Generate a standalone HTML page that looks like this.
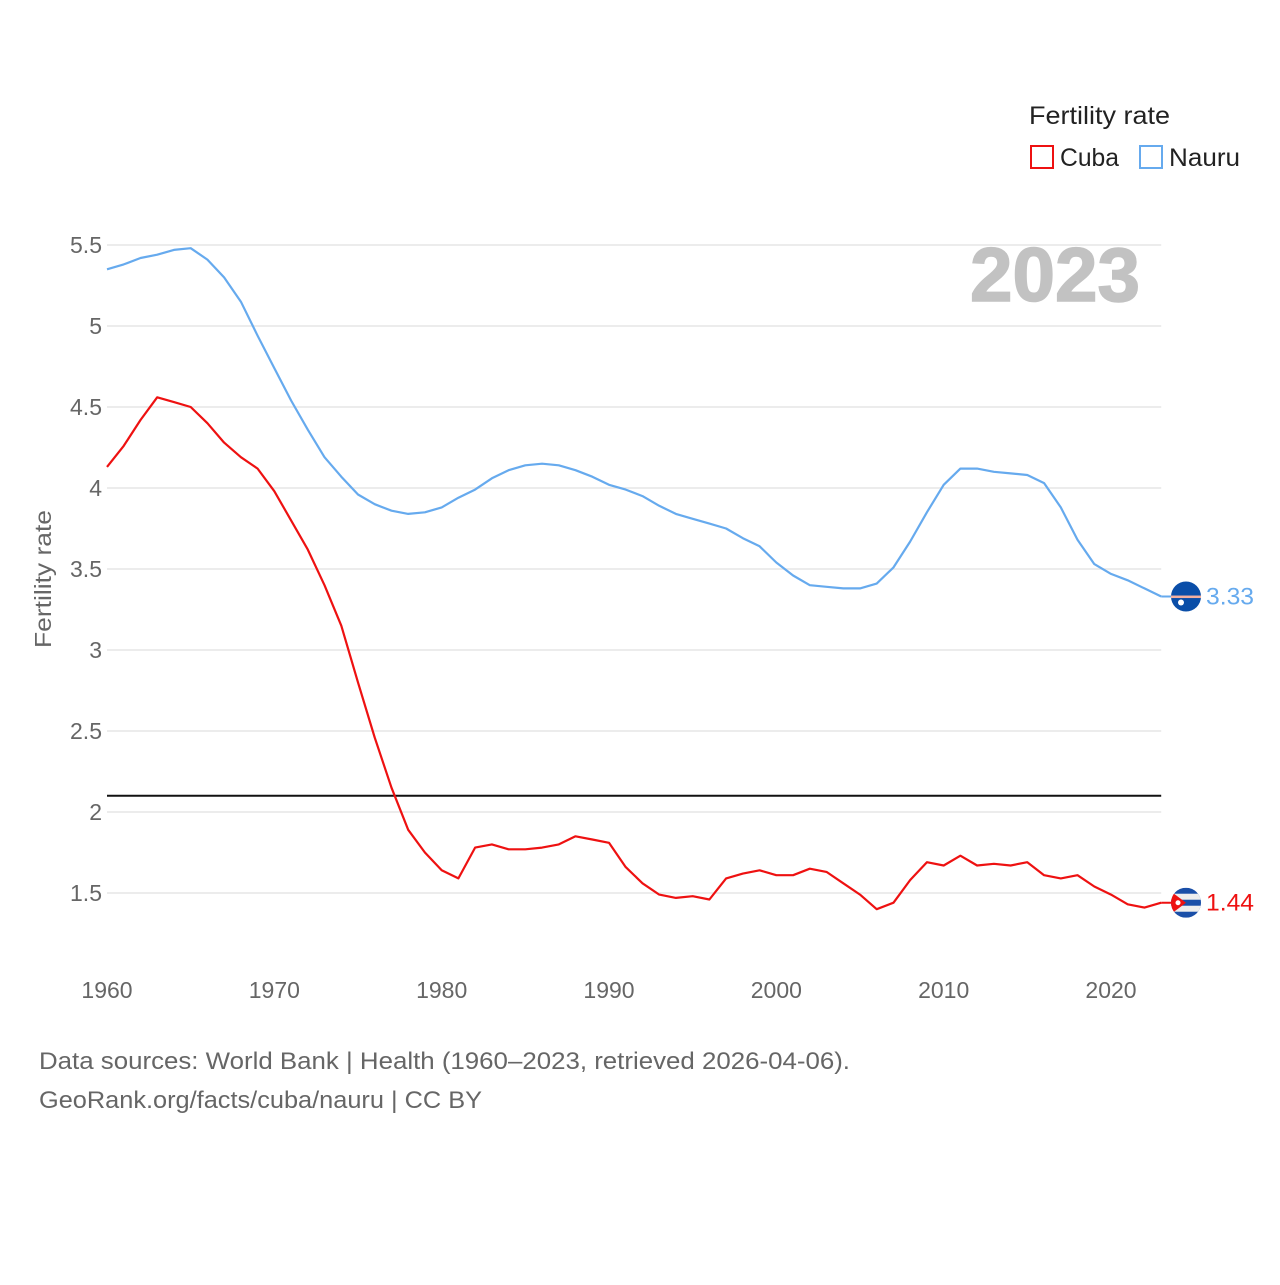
<!DOCTYPE html>
<html><head><meta charset="utf-8">
<style>
body{margin:0;background:#fff;width:1280px;height:1280px;overflow:hidden;font-family:"Liberation Sans",sans-serif;}
svg text{font-family:"Liberation Sans",sans-serif;}
</style></head>
<body>
<svg id="chart" width="1280" height="1280" xmlns="http://www.w3.org/2000/svg"></svg>
<script>
const years = [];
for (let y = 1960; y <= 2023; y++) years.push(y);
const cuba = [4.13,4.26,4.42,4.56,4.53,4.50,4.40,4.28,4.19,4.12,3.98,3.80,3.62,3.40,3.15,2.80,2.46,2.15,1.89,1.75,1.64,1.59,1.78,1.80,1.77,1.77,1.78,1.80,1.85,1.83,1.81,1.66,1.56,1.49,1.47,1.48,1.46,1.59,1.62,1.64,1.61,1.61,1.65,1.63,1.56,1.49,1.40,1.44,1.58,1.69,1.67,1.73,1.67,1.68,1.67,1.69,1.61,1.59,1.61,1.54,1.49,1.43,1.41,1.44];
const nauru = [5.35,5.38,5.42,5.44,5.47,5.48,5.41,5.30,5.15,4.94,4.74,4.54,4.36,4.19,4.07,3.96,3.90,3.86,3.84,3.85,3.88,3.94,3.99,4.06,4.11,4.14,4.15,4.14,4.11,4.07,4.02,3.99,3.95,3.89,3.84,3.81,3.78,3.75,3.69,3.64,3.54,3.46,3.40,3.39,3.38,3.38,3.41,3.51,3.67,3.85,4.02,4.12,4.12,4.10,4.09,4.08,4.03,3.88,3.68,3.53,3.47,3.43,3.38,3.33];
const yTicks = [1.5,2,2.5,3,3.5,4,4.5,5,5.5];
const yTickLabels = ["1.5","2","2.5","3","3.5","4","4.5","5","5.5"];
const xTicks = [1960,1970,1980,1990,2000,2010,2020];
const replacementRate = 2.1;

const X = y => 107 + (y - 1960) * (1004 / 60);
const Y = v => 893 - (v - 1.5) * 162;
const NS = "http://www.w3.org/2000/svg";
const svg = document.getElementById('chart');
function el(tag, attrs, text) {
  const e = document.createElementNS(NS, tag);
  for (const k in attrs) e.setAttribute(k, attrs[k]);
  if (text !== undefined) e.textContent = text;
  svg.appendChild(e);
  return e;
}
const x0 = 107, x1 = X(2023);
yTicks.forEach((v, i) => {
  const g = el('line', {x1: x0, x2: x1, y1: Y(v), y2: Y(v), stroke: '#e6e6e6', 'stroke-width': 1.5});
  
  
  const t = el('text', {x: 102, y: Y(v) + 8, 'text-anchor': 'end', 'font-size': 23, fill: '#666'}, yTickLabels[i]);
  
  
});
xTicks.forEach(v => {
  const t = el('text', {x: X(v), y: 998, 'text-anchor': 'middle', 'font-size': 23, fill: '#666'}, String(v));
  
  
});
const rl = el('line', {x1: x0, x2: x1, y1: Y(replacementRate), y2: Y(replacementRate), stroke: '#111', 'stroke-width': 2});



const yt = el('text', {x: 0, y: 0, transform: 'translate(51,579) rotate(-90)', 'text-anchor': 'middle', 'font-size': 23, fill: '#666', textLength: 138, lengthAdjust: 'spacingAndGlyphs'}, 'Fertility rate');



const yr = el('text', {x: 970, y: 301, 'font-size': 76, 'font-weight': 'bold', fill: '#c2c2c2', stroke: '#c2c2c2', 'stroke-width': 1.5, textLength: 170, lengthAdjust: 'spacingAndGlyphs'}, '2023');



function series(vals, color, name) {
  const d = vals.map((v, i) => (i ? 'L' : 'M') + X(years[i]).toFixed(1) + ',' + Y(v).toFixed(1)).join(' ');
  const p = el('path', {d: d, fill: 'none', stroke: color, 'stroke-width': 2.2, 'stroke-linejoin': 'round'});
  
  
  const last = vals[vals.length - 1];
  const c = el('line', {x1: x1, x2: 1186, y1: Y(last), y2: Y(last), stroke: color, 'stroke-width': 2});
  
  
  const lab = el('text', {x: 1206, y: Y(last) + 8, 'font-size': 24, fill: color, textLength: 48, lengthAdjust: 'spacingAndGlyphs'}, last.toFixed(2));
  
  
  return Y(last);
}
const ny = series(nauru, '#66aaee', 'nauru');
const cy = series(cuba, '#ee1111', 'cuba');

// Nauru flag marker
let f = el('circle', {cx: 1186, cy: ny, r: 15, fill: '#0a4ea8'});


el('rect', {x: 1171, y: ny - 1, width: 30, height: 2.5, fill: '#f4b0a0'});
el('circle', {cx: 1181, cy: ny + 6, r: 3, fill: '#fff'});
// Cuba flag marker
const cp = el('clipPath', {id: 'cc'});
const cc = document.createElementNS(NS, 'circle');
cc.setAttribute('cx', 1186); cc.setAttribute('cy', cy); cc.setAttribute('r', 15);
cp.appendChild(cc);
const g = document.createElementNS(NS, 'g');
g.setAttribute('clip-path', 'url(#cc)');


svg.appendChild(g);
const parts = [['rect', {x: 1171, y: cy - 15, width: 30, height: 30, fill: '#1a4fa8'}],
  ['rect', {x: 1171, y: cy - 9, width: 30, height: 6, fill: '#eee'}],
  ['rect', {x: 1171, y: cy + 3, width: 30, height: 6, fill: '#eee'}],
  ['polygon', {points: `1166,${cy - 15} 1186,${cy} 1166,${cy + 15}`, fill: '#ee1111'}],
  ['circle', {cx: 1178, cy: cy, r: 2.5, fill: '#fff'}]];
parts.forEach(([t, a]) => { const e = document.createElementNS(NS, t); for (const k in a) e.setAttribute(k, a[k]); g.appendChild(e); });

// Legend
const lt = el('text', {x: 1029, y: 124, 'font-size': 25, fill: '#222', textLength: 141, lengthAdjust: 'spacingAndGlyphs'}, 'Fertility rate');


const lc = el('rect', {x: 1031, y: 146, width: 22, height: 22, fill: 'none', stroke: '#ee1111', 'stroke-width': 2});


const lct = el('text', {x: 1060, y: 166, 'font-size': 25, fill: '#222', textLength: 59, lengthAdjust: 'spacingAndGlyphs'}, 'Cuba');


const ln = el('rect', {x: 1140, y: 146, width: 22, height: 22, fill: 'none', stroke: '#66aaee', 'stroke-width': 2});


const lnt = el('text', {x: 1169, y: 166, 'font-size': 25, fill: '#222', textLength: 71, lengthAdjust: 'spacingAndGlyphs'}, 'Nauru');



// Footer
const s1 = el('text', {x: 39, y: 1069, 'font-size': 24, fill: '#666', textLength: 811, lengthAdjust: 'spacingAndGlyphs'}, 'Data sources: World Bank | Health (1960–2023, retrieved 2026-04-06).');


const s2 = el('text', {x: 39, y: 1108, 'font-size': 24, fill: '#666', textLength: 443, lengthAdjust: 'spacingAndGlyphs'}, 'GeoRank.org/facts/cuba/nauru | CC BY');


</script>
</body></html>
